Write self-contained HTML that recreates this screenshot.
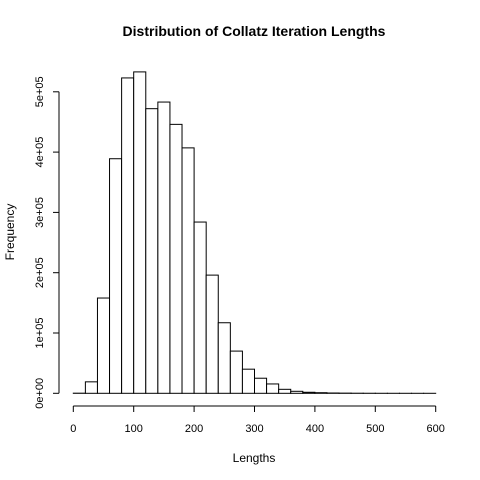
<!DOCTYPE html>
<html><head><meta charset="utf-8"><style>body{margin:0;background:#fff}svg{display:block}</style></head>
<body>
<svg id="chart" width="480" height="480" xmlns="http://www.w3.org/2000/svg" font-family="'Liberation Sans', sans-serif">
<rect width="480" height="480" fill="#fff"/>
<text x="254" y="36" text-anchor="middle" font-size="14" font-weight="bold">Distribution of Collatz Iteration Lengths</text>
<text x="254" y="462" text-anchor="middle" font-size="12">Lengths</text>
<text transform="translate(14,232) rotate(-90)" text-anchor="middle" font-size="12">Frequency</text>
<g id="bars"></g>
<g id="axes"></g>
</svg>
<script>
const binStarts = [0,20,40,60,80,100,120,140,160,180,200,220,240,260,280,300,320,340,360,380,400,420,440,460,480,500,520,540,560,580];
const binWidth = 20;
const counts = [200,19000,158000,389000,523000,533000,472000,483000,446000,407000,284000,196000,117000,70000,40000,25000,15500,6600,3300,1700,1000,500,300,150,80,40,20,10,5,2];
const xTicks = [0,100,200,300,400,500,600];
const yTicks = [0,100000,200000,300000,400000,500000];
const yTickLabels = ["0e+00","1e+05","2e+05","3e+05","4e+05","5e+05"];
const ns="http://www.w3.org/2000/svg";
function xs(v){return 73.3+v*0.604;}
function ys(v){return 393.3-v*60.3/100000;}
const bars=document.getElementById('bars');
binStarts.forEach((b,i)=>{
  const r=document.createElementNS(ns,'rect');
  
  
  const y=ys(counts[i]);
  r.setAttribute('x',xs(b));r.setAttribute('width',xs(b+binWidth)-xs(b));
  r.setAttribute('y',y);r.setAttribute('height',ys(0)-y);
  r.setAttribute('fill','#fff');r.setAttribute('stroke','#000');r.setAttribute('stroke-width','1');
  bars.appendChild(r);
});
const axes=document.getElementById('axes');
function line(x1,y1,x2,y2,name){const l=document.createElementNS(ns,'line');
  
  
  l.setAttribute('x1',x1);l.setAttribute('y1',y1);l.setAttribute('x2',x2);l.setAttribute('y2',y2);l.setAttribute('stroke','#000');axes.appendChild(l);}
function text(x,y,s,name,rot){const t=document.createElementNS(ns,'text');
  
  
  t.setAttribute('text-anchor','middle');t.setAttribute('font-size','11');
  if(rot){t.setAttribute('transform','translate('+x+','+y+') rotate(-90)');}else{t.setAttribute('x',x);t.setAttribute('y',y);}
  t.textContent=s;axes.appendChild(t);}
line(xs(xTicks[0]),406,xs(xTicks[xTicks.length-1]),406,'x-axis-line');
xTicks.forEach(v=>{line(xs(v),406,xs(v),412,'x-tick');text(xs(v),432,String(v),'x-tick-label');});
line(59,ys(yTicks[0]),59,ys(yTicks[yTicks.length-1]),'y-axis-line');
yTicks.forEach((v,i)=>{line(53,ys(v),59,ys(v),'y-tick');text(43,ys(v),yTickLabels[i],'y-tick-label',true);});
</script>
</body></html>
